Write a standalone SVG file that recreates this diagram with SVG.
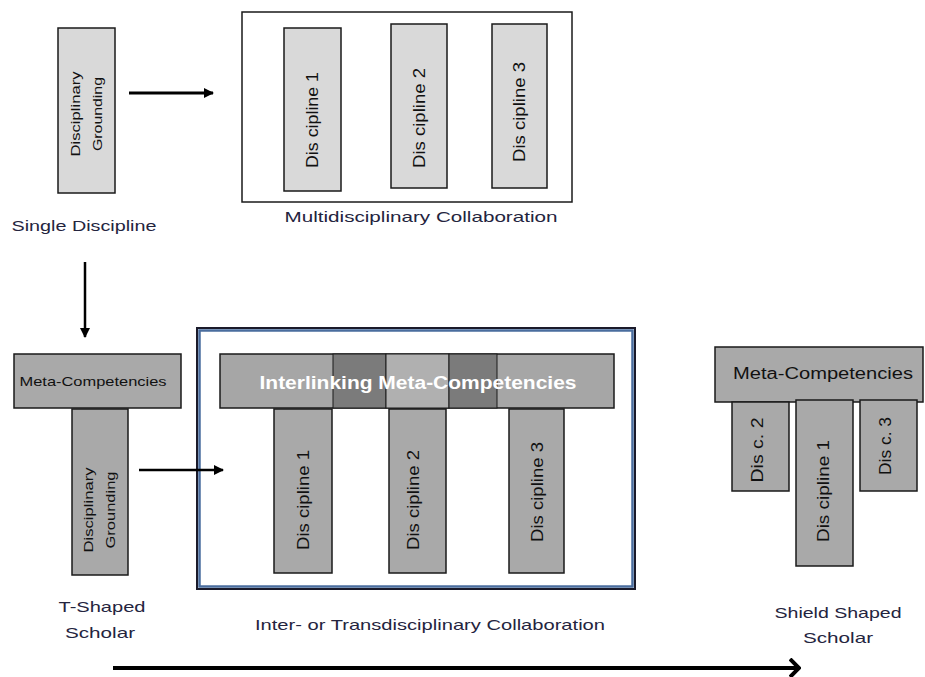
<svg xmlns="http://www.w3.org/2000/svg" width="925" height="677" viewBox="0 0 925 677">
<defs>
<marker id="tri" viewBox="0 0 10 10" refX="9" refY="5" markerWidth="10" markerHeight="10" markerUnits="userSpaceOnUse" orient="auto">
<path d="M0,0 L10,5 L0,10 Z" fill="#000"/>
</marker>
<marker id="chev" viewBox="0 0 12 20" refX="10" refY="10" markerWidth="12" markerHeight="20" markerUnits="userSpaceOnUse" orient="auto">
<path d="M1,1 L10,10 L1,19" fill="none" stroke="#000" stroke-width="4"/>
</marker>
</defs>
<style>
.lt{fill:#d9d9d9;stroke:#1a1a1a;stroke-width:1.5}
.dk{fill:#a9a9a9;stroke:#1a1a1a;stroke-width:1.5}
.t{font-family:"Liberation Sans",Arial,sans-serif;fill:#111}
.cap{font-family:"Liberation Sans",Arial,sans-serif;fill:#24243e;font-size:15px;text-anchor:middle}
.v{text-anchor:middle}
.conn{stroke:#000;fill:none}
</style>
<rect width="925" height="677" fill="#fff"/>

<g id="single">
<rect class="lt" x="58" y="28" width="57" height="165"/>
<g transform="translate(86.5,114) rotate(-90)">
<text class="t v" y="-7" font-size="13" textLength="85" lengthAdjust="spacingAndGlyphs">Disciplinary</text>
<text class="t v" y="15" font-size="13" textLength="74" lengthAdjust="spacingAndGlyphs">Grounding</text>
</g>
<text class="cap" x="84" y="231" textLength="145" lengthAdjust="spacingAndGlyphs">Single Discipline</text>
</g>

<g id="multi">
<rect x="242" y="12" width="330" height="190" fill="none" stroke="#1a1a1a" stroke-width="1.5"/>
<rect class="lt" x="284" y="28" width="57" height="163"/>
<text class="t v" font-size="17" transform="translate(318,120) rotate(-90)" textLength="96" lengthAdjust="spacingAndGlyphs">Dis cipline 1</text>
<rect class="lt" x="391" y="24" width="56" height="164"/>
<text class="t v" font-size="17" transform="translate(425,118) rotate(-90)" textLength="100" lengthAdjust="spacingAndGlyphs">Dis cipline 2</text>
<rect class="lt" x="492" y="24" width="55" height="164"/>
<text class="t v" font-size="17" transform="translate(525,112) rotate(-90)" textLength="100" lengthAdjust="spacingAndGlyphs">Dis cipline 3</text>
<text class="cap" x="421" y="222" textLength="273" lengthAdjust="spacingAndGlyphs">Multidisciplinary  Collaboration</text>
</g>

<g id="tshaped">
<rect class="dk" x="14" y="354" width="167" height="54"/>
<text class="t v" x="93" y="386" font-size="13" textLength="147" lengthAdjust="spacingAndGlyphs">Meta-Competencies</text>
<rect class="dk" x="72" y="409" width="56" height="166"/>
<g transform="translate(99.5,510) rotate(-90)">
<text class="t v" y="-7" font-size="13" textLength="85" lengthAdjust="spacingAndGlyphs">Disciplinary</text>
<text class="t v" y="15" font-size="13" textLength="77" lengthAdjust="spacingAndGlyphs">Grounding</text>
</g>
<text class="cap" x="102" y="612" textLength="87" lengthAdjust="spacingAndGlyphs">T-Shaped</text>
<text class="cap" x="100" y="638" textLength="70" lengthAdjust="spacingAndGlyphs">Scholar</text>
</g>

<g id="inter">
<rect x="197" y="328" width="438" height="261" fill="none" stroke="#1a1a2a" stroke-width="2"/>
<rect x="199.5" y="330.5" width="433" height="256" fill="none" stroke="#4a6d9e" stroke-width="2.5"/>
<rect x="220" y="354" width="394" height="54" fill="#a6a6a6" stroke="#1a1a1a" stroke-width="1.5"/>
<rect x="333" y="354" width="53" height="54" fill="#7b7b7b" stroke="#1a1a1a" stroke-width="1"/>
<rect x="386" y="354" width="63" height="54" fill="#b0b0b0" stroke="#1a1a1a" stroke-width="1"/>
<rect x="449" y="354" width="48" height="54" fill="#7b7b7b" stroke="#1a1a1a" stroke-width="1"/>
<text x="418" y="389" font-family="Liberation Sans,Arial,sans-serif" font-size="18" font-weight="bold" fill="#fff" text-anchor="middle" textLength="317" lengthAdjust="spacingAndGlyphs">Interlinking Meta-Competencies</text>
<rect class="dk" x="274" y="409" width="58" height="164"/>
<text class="t v" font-size="17" transform="translate(308.5,500) rotate(-90)" textLength="100" lengthAdjust="spacingAndGlyphs">Dis cipline 1</text>
<rect class="dk" x="389" y="409" width="57" height="164"/>
<text class="t v" font-size="17" transform="translate(418.5,500) rotate(-90)" textLength="100" lengthAdjust="spacingAndGlyphs">Dis cipline 2</text>
<rect class="dk" x="509" y="409" width="55" height="164"/>
<text class="t v" font-size="17" transform="translate(542.5,492) rotate(-90)" textLength="100" lengthAdjust="spacingAndGlyphs">Dis cipline 3</text>
<text class="cap" x="430" y="630" textLength="350" lengthAdjust="spacingAndGlyphs">Inter- or Transdisciplinary  Collaboration</text>
</g>

<g id="shield">
<rect class="dk" x="715" y="347" width="208" height="55"/>
<text class="t v" x="823" y="379" font-size="16" textLength="180" lengthAdjust="spacingAndGlyphs">Meta-Competencies</text>
<rect class="dk" x="732" y="402" width="57" height="89"/>
<text class="t v" font-size="17" transform="translate(762.5,450) rotate(-90)" textLength="65" lengthAdjust="spacingAndGlyphs">Dis c. 2</text>
<rect class="dk" x="796" y="400" width="57" height="166"/>
<text class="t v" font-size="17" transform="translate(829,491) rotate(-90)" textLength="102" lengthAdjust="spacingAndGlyphs">Dis cipline 1</text>
<rect class="dk" x="860" y="400" width="57" height="91"/>
<text class="t v" font-size="17" transform="translate(891,446) rotate(-90)" textLength="58" lengthAdjust="spacingAndGlyphs">Dis c. 3</text>
<text class="cap" x="838" y="618" textLength="127" lengthAdjust="spacingAndGlyphs">Shield Shaped</text>
<text class="cap" x="838" y="643" textLength="70" lengthAdjust="spacingAndGlyphs">Scholar</text>
</g>

<g id="connectors">
<line class="conn" x1="129" y1="93" x2="213" y2="93" stroke-width="3" marker-end="url(#tri)"/>
<line class="conn" x1="85" y1="262" x2="85" y2="337" stroke-width="2.5" marker-end="url(#tri)"/>
<line class="conn" x1="139" y1="470" x2="223" y2="470" stroke-width="2.5" marker-end="url(#tri)"/>
<line class="conn" x1="113" y1="668" x2="799" y2="668" stroke-width="4" marker-end="url(#chev)"/>
</g>
</svg>
